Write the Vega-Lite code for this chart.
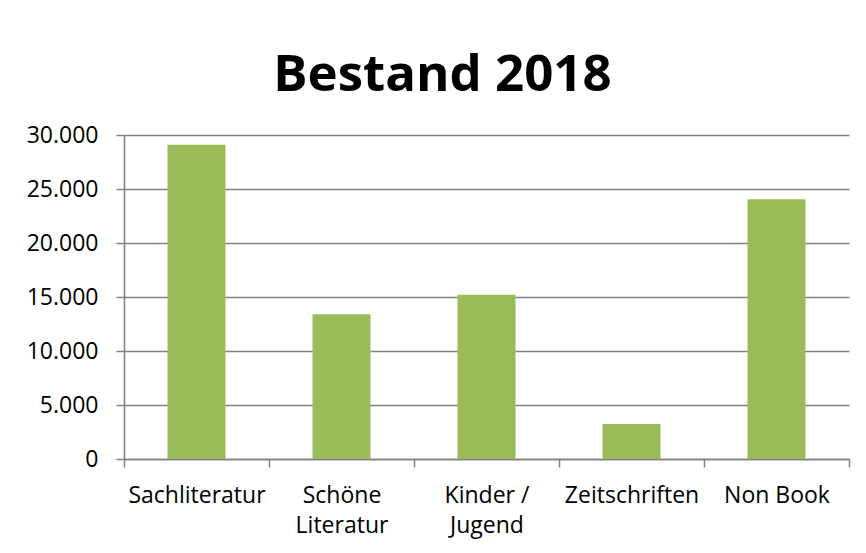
{
  "$schema": "https://vega.github.io/schema/vega-lite/v6.json",
  "width": 725,
  "height": 324,
  "autosize": {"type": "none"},
  "padding": {"left": 124, "top": 135, "right": 17, "bottom": 94},
  "background": "white",
  "title": {
    "text": "Bestand 2018",
    "font": "Open Sans",
    "fontSize": 51,
    "fontWeight": "bold",
    "color": "#000000",
    "anchor": "middle",
    "dx": -44,
    "offset": -18,
    "baseline": "alphabetic"
  },
  "data": {
    "values": [
      {"kategorie": "Sachliteratur", "bestand": 29100},
      {"kategorie": "Schöne Literatur", "bestand": 13400},
      {"kategorie": "Kinder / Jugend", "bestand": 15200},
      {"kategorie": "Zeitschriften", "bestand": 3250},
      {"kategorie": "Non Book", "bestand": 24050}
    ]
  },
  "mark": {"type": "bar", "color": "#9BBB59", "width": {"band": 0.4}},
  "encoding": {
    "x": {
      "field": "kategorie",
      "type": "nominal",
      "sort": null,
      "title": null,
      "scale": {"paddingInner": 0, "paddingOuter": 0},
      "axis": {
        "labelAngle": 0,
        "tickBand": "extent",
        "domainColor": "#808080",
        "domainWidth": 1.5,
        "tickColor": "#808080",
        "tickWidth": 1.5,
        "tickSize": 8,
        "labelPadding": 17,
        "labelFont": "Open Sans",
        "labelFontSize": 23,
        "labelColor": "#000000",
        "labelLineHeight": 30,
        "labelBaseline": "top",
        "labelExpr": "datum.value == 'Schöne Literatur' ? ['Schöne', 'Literatur'] : datum.value == 'Kinder / Jugend' ? ['Kinder /', 'Jugend'] : datum.value"
      }
    },
    "y": {
      "field": "bestand",
      "type": "quantitative",
      "title": null,
      "scale": {"domain": [0, 30000], "nice": false},
      "axis": {
        "values": [0, 5000, 10000, 15000, 20000, 25000, 30000],
        "labelExpr": "replace(format(datum.value, ','), ',', '.')",
        "grid": true,
        "gridColor": "#808080",
        "gridWidth": 1.5,
        "domainColor": "#808080",
        "domainWidth": 1.5,
        "tickColor": "#808080",
        "tickWidth": 1.5,
        "tickSize": 8,
        "labelPadding": 18,
        "labelFont": "Open Sans",
        "labelFontSize": 23,
        "labelColor": "#000000"
      }
    }
  },
  "config": {"view": {"stroke": null}}
}
